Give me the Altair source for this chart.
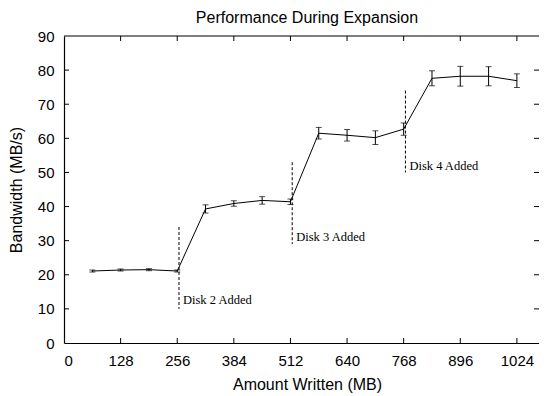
import altair as alt
import pandas as pd

# ---- data ----
written = [64, 128, 192, 256, 320, 384, 448, 512, 576, 640, 704, 768, 832, 896, 960, 1024]
bandwidth = [21.1, 21.4, 21.5, 21.1, 39.3, 40.9, 41.8, 41.4, 61.5, 60.9, 60.2, 62.7, 77.6, 78.2, 78.2, 76.9]
err = [0.3, 0.3, 0.3, 0.3, 1.2, 0.8, 1.1, 0.8, 1.7, 1.7, 2.0, 1.8, 2.2, 2.9, 2.8, 2.0]

x_ticks = [0, 128, 256, 384, 512, 640, 768, 896, 1024]
y_ticks = [0, 10, 20, 30, 40, 50, 60, 70, 80, 90]

disk_x = [260, 516, 772]
disk_top = [34, 53, 74]
disk_bottom = [10, 29, 50]
disk_label_y = [12.6, 31.1, 51.9]
disk_labels = ["Disk 2 Added", "Disk 3 Added", "Disk 4 Added"]

chart_title = "Performance During Expansion"
x_title = "Amount Written (MB)"
y_title = "Bandwidth (MB/s)"

# ---- layout ----
W, H = 475, 307
XMAX = 1074
TICK = 5

df = pd.DataFrame({
    "x": written,
    "y": bandwidth,
    "lo": [b - e for b, e in zip(bandwidth, err)],
    "hi": [b + e for b, e in zip(bandwidth, err)],
})

xs = alt.Scale(domain=[0, XMAX], nice=False, zero=False)
ys = alt.Scale(domain=[0, 90], nice=False, zero=False)

x_axis = alt.Axis(
    values=x_ticks, format="d", ticks=False, tickSize=0, grid=False, labelOverlap=False,
    labelFont="Liberation Sans", labelFontSize=15, labelColor="black", labelPadding=10,
    domainColor="black", domainWidth=1.2,
    title=x_title, titleFont="Liberation Sans", titleFontSize=16, titleFontWeight="normal",
    titleColor="black", titleX=243, titleY=46, titleBaseline="alphabetic", titleAlign="center",
)
y_axis = alt.Axis(
    values=y_ticks, format="d", ticks=False, tickSize=0, grid=False, labelOverlap=False,
    labelFont="Liberation Sans", labelFontSize=15, labelColor="black", labelPadding=10,
    domainColor="black", domainWidth=1.2,
    title=y_title, titleFont="Liberation Sans", titleFontSize=16, titleFontWeight="normal",
    titleColor="black", titleAngle=270, titleX=-43, titleY=H / 2, titleBaseline="alphabetic",
    titleAlign="center",
)


def X(field):
    return alt.X(field, scale=xs, axis=x_axis)


def Y(field):
    return alt.Y(field, scale=ys, axis=y_axis)


line = alt.Chart(df).mark_line(color="black", strokeWidth=1).encode(
    x=X("x:Q"), y=Y("y:Q"))

bars = alt.Chart(df).mark_rule(color="black", strokeWidth=1).encode(
    x=X("x:Q"), y=Y("lo:Q"), y2="hi:Q")
cap_lo = alt.Chart(df).mark_tick(color="black", orient="horizontal", size=6, thickness=1).encode(
    x=X("x:Q"), y=Y("lo:Q"))
cap_hi = alt.Chart(df).mark_tick(color="black", orient="horizontal", size=6, thickness=1).encode(
    x=X("x:Q"), y=Y("hi:Q"))

xt = pd.DataFrame({"x": x_ticks[1:]})
yt = pd.DataFrame({"y": y_ticks[1:-1]})

bottom_ticks = alt.Chart(xt).mark_rule(color="black", strokeWidth=1).encode(
    x=X("x:Q"), y=alt.value(H), y2=alt.value(H - TICK))
top_ticks = alt.Chart(xt).mark_rule(color="black", strokeWidth=1).encode(
    x=X("x:Q"), y=alt.value(0), y2=alt.value(TICK))
left_ticks = alt.Chart(yt).mark_rule(color="black", strokeWidth=1).encode(
    y=Y("y:Q"), x=alt.value(0), x2=alt.value(TICK))
right_ticks = alt.Chart(yt).mark_rule(color="black", strokeWidth=1).encode(
    y=Y("y:Q"), x=alt.value(W), x2=alt.value(W - TICK))

top_frame = alt.Chart(pd.DataFrame({"k": [0]})).mark_rule(color="black", strokeWidth=1.2).encode(
    x=alt.value(0), x2=alt.value(W), y=alt.value(0))

ddf = pd.DataFrame({"x": disk_x, "top": disk_top, "bottom": disk_bottom,
                    "ly": disk_label_y, "label": disk_labels})
dashes = alt.Chart(ddf).mark_rule(color="black", strokeWidth=1, strokeDash=[3, 2]).encode(
    x=X("x:Q"), y=Y("top:Q"), y2="bottom:Q")
dlabels = alt.Chart(ddf).mark_text(font="Liberation Serif", fontSize=12.5, color="black",
                                   align="left", baseline="middle", dx=4).encode(
    x=X("x:Q"), y=Y("ly:Q"), text="label:N")

title = alt.Chart(pd.DataFrame({"t": [chart_title]})).mark_text(
    font="Liberation Sans", fontSize=16, color="black", align="center", baseline="alphabetic"
).encode(text="t:N", x=alt.value(243), y=alt.value(-13))

chart = alt.layer(
    line, bars, cap_lo, cap_hi, bottom_ticks, top_ticks, left_ticks, right_ticks,
    top_frame, dashes, dlabels, title,
).properties(
    width=W, height=H,
    autosize=alt.AutoSizeParams(type="none"),
    padding={"left": 56, "top": 28, "right": 0, "bottom": 52},
    background="white",
).configure_view(strokeWidth=0)

chart.save("out.html", embed_options={"renderer": "svg", "actions": False})
